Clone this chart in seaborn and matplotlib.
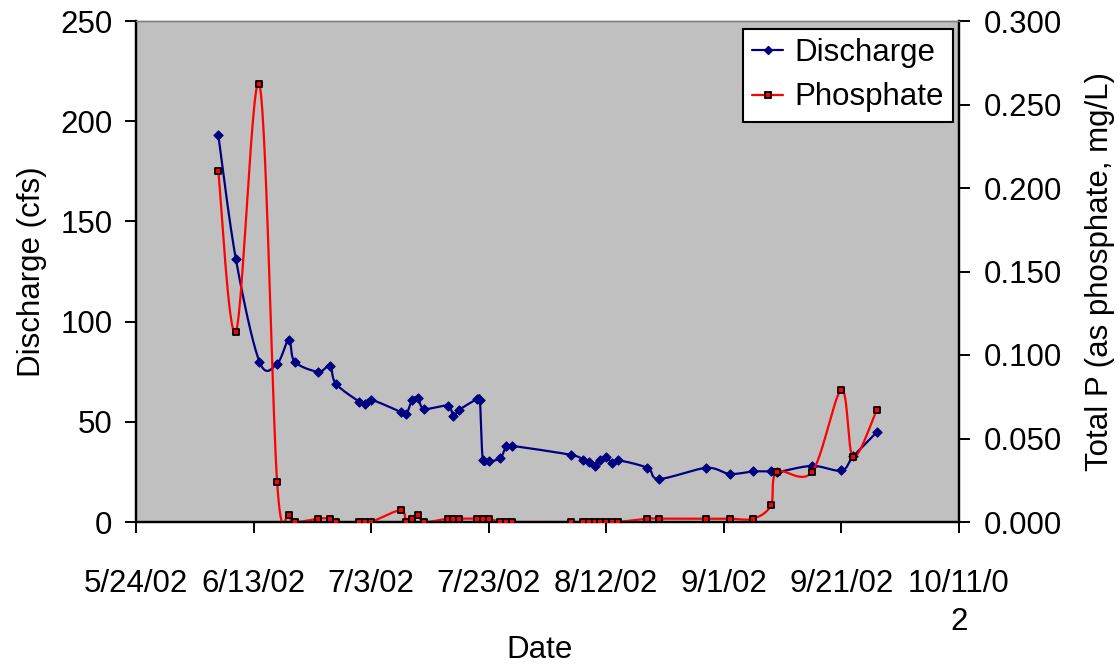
import numpy as np
import pandas as pd
import matplotlib
matplotlib.use("Agg")
import matplotlib.pyplot as plt
import matplotlib.dates as mdates
from matplotlib.lines import Line2D
import seaborn as sns

# Stream discharge (cfs) by sampling date
discharge_dates = [
    "2002-06-07", "2002-06-10", "2002-06-14", "2002-06-17", "2002-06-19",
    "2002-06-20", "2002-06-24", "2002-06-26", "2002-06-27", "2002-07-01",
    "2002-07-02", "2002-07-03", "2002-07-08", "2002-07-09", "2002-07-10",
    "2002-07-11", "2002-07-12", "2002-07-16", "2002-07-17", "2002-07-18",
    "2002-07-21", "2002-07-21T12:00", "2002-07-22", "2002-07-23", "2002-07-25",
    "2002-07-26", "2002-07-27", "2002-08-06", "2002-08-08", "2002-08-09",
    "2002-08-10", "2002-08-11", "2002-08-12", "2002-08-13", "2002-08-14",
    "2002-08-19", "2002-08-21", "2002-08-29", "2002-09-02", "2002-09-06",
    "2002-09-09", "2002-09-10", "2002-09-16", "2002-09-21", "2002-09-23",
    "2002-09-27",
]
discharge_cfs = [
    193, 131, 80, 79, 91,
    80, 75, 78, 69, 60,
    59, 61, 55, 54, 61,
    62, 56.5, 58, 53, 56,
    61.3, 60.7, 31, 30.2, 32,
    38, 38, 33.5, 31, 30,
    28, 31, 32.5, 29.3, 30.8,
    27, 21.5, 27, 24, 25.2,
    25.2, 24.8, 28, 25.7, 32.7,
    44.8,
]

# Total phosphorus (as phosphate, mg/L) by sampling date
phosphate_dates = [
    "2002-06-07", "2002-06-10", "2002-06-14", "2002-06-17", "2002-06-19",
    "2002-06-20", "2002-06-24", "2002-06-26", "2002-06-27", "2002-07-01",
    "2002-07-02", "2002-07-03", "2002-07-08", "2002-07-09", "2002-07-10",
    "2002-07-11", "2002-07-12", "2002-07-16", "2002-07-17", "2002-07-18",
    "2002-07-21", "2002-07-22", "2002-07-23", "2002-07-25", "2002-07-26",
    "2002-07-27", "2002-08-06", "2002-08-08", "2002-08-09", "2002-08-10",
    "2002-08-11", "2002-08-12", "2002-08-13", "2002-08-14", "2002-08-19",
    "2002-08-21", "2002-08-29", "2002-09-02", "2002-09-06", "2002-09-09",
    "2002-09-10", "2002-09-16", "2002-09-21", "2002-09-23", "2002-09-27",
]
phosphate_mgL = [
    0.210, 0.114, 0.262, 0.024, 0.004,
    0.000, 0.002, 0.002, 0.000, 0.000,
    0.000, 0.000, 0.007, 0.000, 0.002,
    0.004, 0.000, 0.002, 0.002, 0.002,
    0.002, 0.002, 0.002, 0.000, 0.000,
    0.000, 0.000, 0.000, 0.000, 0.000,
    0.000, 0.000, 0.000, 0.000, 0.002,
    0.002, 0.002, 0.002, 0.002, 0.010,
    0.030, 0.030, 0.079, 0.039, 0.067,
]

x_tick_labels = ["5/24/02", "6/13/02", "7/3/02", "7/23/02",
                 "8/12/02", "9/1/02", "9/21/02", "10/11/0\n2"]
left_ticks = [0, 50, 100, 150, 200, 250]
right_ticks = [0.0, 0.05, 0.10, 0.15, 0.20, 0.25, 0.30]

NAVY = "#000080"
RED = "#FF0000"
FS = 22.5


def smooth_curve(x, y, steps=30):
    """Cubic Bezier path through the points (Catmull-Rom style tangents)."""
    p = np.column_stack([np.asarray(x, float), np.asarray(y, float)])
    n = len(p)
    t = np.linspace(0.0, 1.0, steps)[:, None]
    segs = []
    for i in range(n - 1):
        p0 = p[max(i - 1, 0)]
        p1 = p[i]
        p2 = p[i + 1]
        p3 = p[min(i + 2, n - 1)]
        c1 = p1 + (p2 - p0) / 6.0
        c2 = p2 - (p3 - p1) / 6.0
        seg = ((1 - t) ** 3) * p1 + 3 * ((1 - t) ** 2) * t * c1 \
            + 3 * (1 - t) * t ** 2 * c2 + t ** 3 * p2
        segs.append(seg if i == 0 else seg[1:])
    out = np.vstack(segs)
    return out[:, 0], out[:, 1]


sns.set_theme(style="white")
plt.rcParams["font.family"] = ["Liberation Sans", "DejaVu Sans"]
plt.rcParams.update({"text.color": "black", "axes.labelcolor": "black",
                     "xtick.color": "black", "ytick.color": "black"})

dq = pd.DataFrame({"date": pd.to_datetime(discharge_dates, format="ISO8601"),
                   "cfs": discharge_cfs})
dq["x"] = mdates.date2num(dq["date"])
dp = pd.DataFrame({"date": pd.to_datetime(phosphate_dates, format="ISO8601"),
                   "p": phosphate_mgL})
dp["x"] = mdates.date2num(dp["date"])

fig = plt.figure(figsize=(11.18, 6.65), dpi=100)
ax = fig.add_axes([136 / 1118, 1 - 522 / 665, 823 / 1118, 501 / 665])
ax.set_facecolor("#C0C0C0")
ax2 = ax.twinx()
ax2.patch.set_visible(False)

# Discharge on the left axis
qx, qy = smooth_curve(dq["x"], dq["cfs"])
sns.lineplot(x=qx, y=qy, sort=False, estimator=None, color=NAVY,
             linewidth=1.6, ax=ax, zorder=2)
sns.scatterplot(x=dq["x"], y=dq["cfs"], marker="D", s=22, color=NAVY,
                edgecolor=NAVY, linewidth=0.8, ax=ax, zorder=3)

# Phosphate on the right axis
px, py = smooth_curve(dp["x"], dp["p"])
sns.lineplot(x=px, y=py, sort=False, estimator=None, color=RED,
             linewidth=1.6, ax=ax2, zorder=2)
sns.scatterplot(x=dp["x"], y=dp["p"], marker="s", s=20, color=RED,
                edgecolor="black", linewidth=1.3, ax=ax2, zorder=3)

x0 = mdates.date2num(pd.Timestamp("2002-05-24"))
xticks = [x0 + 20 * i for i in range(len(x_tick_labels))]
ax.set_xlim(x0, x0 + 140)
ax.set_xticks(xticks)
ax.set_xticklabels(x_tick_labels, fontsize=FS, multialignment="center",
                   linespacing=1.35)
ax.set_ylim(0, 250)
ax.set_yticks(left_ticks)
ax.set_yticklabels([str(v) for v in left_ticks], fontsize=FS)
ax2.set_ylim(0, 0.3)
ax2.set_yticks(right_ticks)
ax2.set_yticklabels([f"{v:.3f}" for v in right_ticks], fontsize=FS)

ax.tick_params(axis="x", direction="out", length=8, width=1.4, color="black",
               pad=26, bottom=True)
ax.tick_params(axis="y", direction="out", length=8, width=1.4, color="black",
               pad=9, left=True)
ax2.tick_params(axis="y", direction="out", length=8, width=1.4, color="black",
                pad=10, right=True)

for a in (ax, ax2):
    for side in ("left", "bottom", "right"):
        a.spines[side].set_color("black")
        a.spines[side].set_linewidth(1.6)
    a.spines["top"].set_color("#808080")
    a.spines["top"].set_linewidth(1.0)
    a.grid(False)

ax.set_xlabel("Date", fontsize=FS)
ax.xaxis.set_label_coords(0.49, -0.226)
ax.set_ylabel("Discharge (cfs)", fontsize=FS)
ax.yaxis.set_label_coords(-0.108, 0.5)
ax2.set_ylabel("Total P (as phosphate, mg/L)", fontsize=FS)
ax2.yaxis.set_label_coords(1.153, 0.5)

handles = [
    Line2D([], [], color=NAVY, linewidth=1.6, marker="D", markersize=4.5,
           markerfacecolor=NAVY, markeredgecolor=NAVY),
    Line2D([], [], color=RED, linewidth=1.6, marker="s", markersize=4.5,
           markerfacecolor=RED, markeredgecolor="black", markeredgewidth=1.3),
]
leg = ax2.legend(handles, ["Discharge", "Phosphate"], loc="upper right",
                 bbox_to_anchor=(0.9927, 0.984), frameon=True, fancybox=False,
                 edgecolor="black", framealpha=1, fontsize=FS,
                 handlelength=1.0, handletextpad=0.35, borderpad=0.3,
                 labelspacing=0.45, borderaxespad=0)
leg.get_frame().set_linewidth(1.5)
leg.get_frame().set_facecolor("white")

fig.savefig("out.png", dpi=100)
